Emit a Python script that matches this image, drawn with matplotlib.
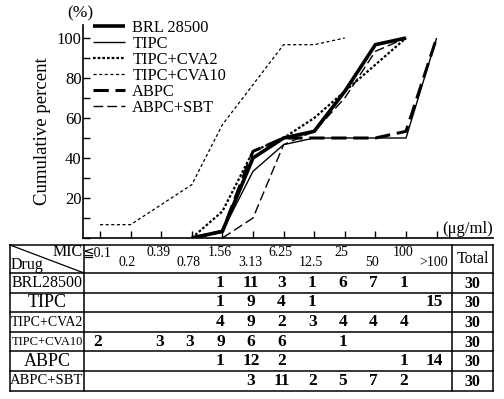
import numpy as np
import matplotlib
matplotlib.use("Agg")
import matplotlib.pyplot as plt
from matplotlib.ticker import MultipleLocator

plt.rcParams['font.family'] = ['Liberation Serif', 'DejaVu Serif', 'DejaVu Sans']

# MIC classes (ug/ml)
mic_top = ['≦0.1', '', '0.39', '', '1.56', '', '6.25', '', '25', '', '100', '']
mic_bottom = ['', '0.2', '', '0.78', '', '3.13', '', '12.5', '', '50', '', '>100']

drugs = ['BRL 28500', 'TIPC', 'TIPC+CVA2', 'TIPC+CVA10', 'ABPC', 'ABPC+SBT']
row_names = ['BRL28500', 'TIPC', 'TIPC+CVA2', 'TIPC+CVA10', 'ABPC', 'ABPC+SBT']

# number of strains per MIC class (0 = blank cell)
brl28500 = [0, 0, 0, 0, 1, 11, 3, 1, 6, 7, 1, 0]
tipc = [0, 0, 0, 0, 1, 9, 4, 1, 0, 0, 0, 15]
tipc_cva2 = [0, 0, 0, 0, 4, 9, 2, 3, 4, 4, 4, 0]
tipc_cva10 = [2, 0, 3, 3, 9, 6, 6, 0, 1, 0, 0, 0]
abpc = [0, 0, 0, 0, 1, 12, 2, 0, 0, 0, 1, 14]
abpc_sbt = [0, 0, 0, 0, 0, 3, 11, 2, 5, 7, 2, 0]
totals = [30, 30, 30, 30, 30, 30]

counts = [brl28500, tipc, tipc_cva2, tipc_cva10, abpc, abpc_sbt]

styles = [
    dict(color='black', lw=2.6, ls='-'),
    dict(color='black', lw=1.0, ls='-'),
    dict(color='black', lw=1.6, ls=(0, (1.2, 0.9))),
    dict(color='black', lw=0.9, ls=(0, (2.5, 2))),
    dict(color='black', lw=2.2, ls=(0, (5, 2.2))),
    dict(color='black', lw=1.0, ls=(0, (7, 3))),
]

fig = plt.figure(figsize=(5.04, 3.99), dpi=100)
W, H = 504.0, 399.0

# chart area (pixel layout)
ax_l, ax_r, ax_b, ax_t = 83, 493, 238, 25
ax = fig.add_axes([ax_l / W, (H - ax_b) / H, (ax_r - ax_l) / W, (ax_b - ax_t) / H])
x0_px, dx_px = 100.0, 30.6
ax.set_xlim((ax_l - x0_px) / dx_px, (ax_r - x0_px) / dx_px)
ax.set_ylim(0, (ax_b - ax_t) / 2.0)

for c, st, name in zip(counts, styles, drugs):
    c = np.array(c)
    cum = np.cumsum(c) / c.sum() * 100
    first = np.argmax(c > 0)
    last = np.argmax(cum >= 99.99)
    start = max(first - 1, 0)
    xs = np.arange(start, last + 1)
    ax.plot(xs, cum[start:last + 1], label=name, solid_capstyle='butt', **st)

ax.spines['top'].set_visible(False)
ax.spines['right'].set_visible(False)
ax.spines['left'].set_linewidth(1.2)
ax.spines['bottom'].set_linewidth(1.2)
ax.set_xticks(np.arange(12))
ax.set_xticklabels([])
ax.set_yticks([20, 40, 60, 80, 100])
ax.yaxis.set_minor_locator(MultipleLocator(10))
ax.tick_params(axis='both', which='both', direction='in', width=1.0)
ax.tick_params(axis='y', which='major', length=5, labelsize=12, pad=1)
ax.tick_params(axis='y', which='minor', length=5)
ax.tick_params(axis='x', length=5)
ax.set_ylabel('Cumulative percent', fontsize=13.5, labelpad=4)

leg = ax.legend(loc='upper left', bbox_to_anchor=(10 / 410, 1 + 5 / 213),
                frameon=False, fontsize=11.8, handlelength=1.95,
                handletextpad=0.45, labelspacing=0.0,
                borderpad=0, borderaxespad=0)

fig.text(80 / W, 1 - 13 / H, '(%)', fontsize=12.5, ha='center', va='center')
fig.text(468 / W, 1 - 229 / H, '(μg/ml)', fontsize=12, ha='center', va='center')

# table drawn in pixel coordinates
tb = fig.add_axes([0, 0, 1, 1])
tb.set_xlim(0, W)
tb.set_ylim(H, 0)
tb.axis('off')

t_left, t_drug, t_main, t_total_r = 10, 84, 452, 493
t_top, t_head = 245, 273
row_h = 19.6
t_bot = t_head + row_h * len(row_names)

lw = 1.1
tb.plot([t_left, t_total_r], [t_top, t_top], color='black', lw=lw)
tb.plot([t_left, t_total_r], [t_head, t_head], color='black', lw=lw)
for k in range(1, len(row_names) + 1):
    y = t_head + row_h * k
    tb.plot([t_left, t_total_r], [y, y], color='black', lw=lw)
for x in [t_left, t_drug, t_main, t_total_r]:
    tb.plot([x, x], [t_top, t_bot], color='black', lw=lw)
tb.plot([t_left, t_drug], [t_top, t_head], color='black', lw=0.9)

tb.text(t_drug - 1, t_top + 7, 'MIC', fontsize=11.5, ha='right', va='center')
tb.text(t_left + 1, t_head - 8, 'Drug', fontsize=11.5, ha='left', va='center')
tb.text((t_main + t_total_r) / 2, (t_top + t_head) / 2, 'Total', fontsize=11.5,
        ha='center', va='center')

for i, (a, b) in enumerate(zip(mic_top, mic_bottom)):
    xc = x0_px + dx_px * i
    if a:
        tb.text(xc - 3, t_top + 8, a, fontsize=10, ha='center', va='center')
    if b:
        tb.text(xc - 3, t_top + 18, b, fontsize=10, ha='center', va='center')

name_sizes = [11.5, 13, 10, 9, 13, 10.5]
for r, (name, c, tot) in enumerate(zip(row_names, counts, totals)):
    yc = t_head + row_h * (r + 0.5)
    tb.text((t_left + t_drug) / 2, yc, name, fontsize=name_sizes[r],
            ha='center', va='center')
    for i, v in enumerate(c):
        if v:
            tb.text(x0_px + dx_px * i - 2, yc, str(v), fontsize=12.5,
                    ha='center', va='center', fontweight='bold')
    tb.text((t_main + t_total_r) / 2, yc + 1, str(tot), fontsize=11.5,
            ha='center', va='center', fontweight='bold')

fig.savefig('out.png', dpi=100)
